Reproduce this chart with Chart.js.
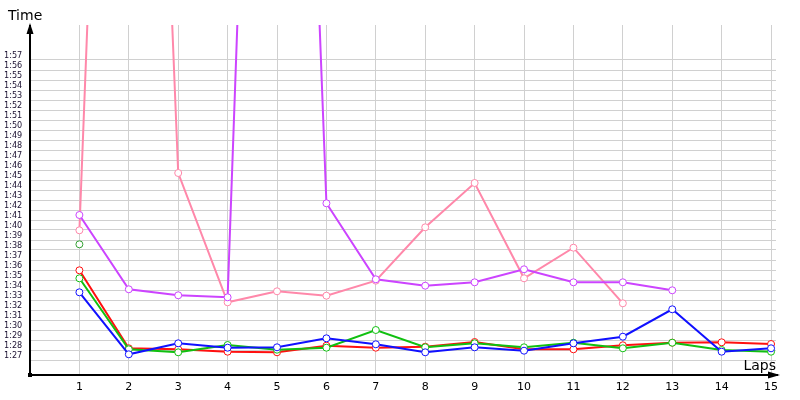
<!DOCTYPE html>
<html>
<head>
<meta charset="utf-8">
<script src="https://cdn.jsdelivr.net/npm/chart.js@4"></script>
<style>
  body { margin: 0; background: #fff; }
  #wrap { width: 800px; height: 400px; }
</style>
</head>
<body>
<div id="wrap"><canvas id="lapChart" width="800" height="400"></canvas></div>
<script>
// lap numbers on the x axis
const laps = [1, 2, 3, 4, 5, 6, 7, 8, 9, 10, 11, 12, 13, 14, 15];

// lap times in seconds, one array per driver
const redTimes = [95.97, 88.17, 88.07, 87.83, 87.77, 88.43, 88.23, 88.33, 88.8, 88.07, 88.07, 88.47, 88.73, 88.77, 88.6];
const greenTimes = [95.17, 88.07, 87.77, 88.5, 88.03, 88.23, 90.0, 88.27, 88.67, 88.27, 88.73, 88.17, 88.73, 88.0, 87.83];
const blueTimes = [93.77, 87.57, 88.67, 88.23, 88.27, 89.17, 88.57, 87.77, 88.27, 87.93, 88.67, 89.33, 92.07, 87.83, 88.17];
const purpleTimes = [101.5, 94.07, 93.47, 93.27, 232, 102.67, 95.07, 94.43, 94.77, 96.07, 94.77, 94.77, 93.97];
const pinkTimes = [99.97, 228, 105.7, 92.77, 93.87, 93.43, 94.93, 100.27, 104.7, 95.17, 98.23, 92.67];
const oneLapTimes = [98.57];

// y axis labels
const timeTicks = ["1:27", "1:28", "1:29", "1:30", "1:31", "1:32", "1:33", "1:34", "1:35", "1:36",
  "1:37", "1:38", "1:39", "1:40", "1:41", "1:42", "1:43", "1:44", "1:45", "1:46", "1:47", "1:48",
  "1:49", "1:50", "1:51", "1:52", "1:53", "1:54", "1:55", "1:56", "1:57"];

function toSeconds(label) {
  const parts = label.split(":");
  return Number(parts[0]) * 60 + Number(parts[1]);
}

function toLabel(sec) {
  const m = Math.floor(sec / 60);
  const s = Math.round(sec - m * 60);
  return m + ":" + (s < 10 ? "0" + s : s);
}

function series(times, color) {
  return {
    data: times.map((t, i) => ({ x: laps[i], y: t })),
    borderColor: color,
    backgroundColor: "#ffffff",
    pointBackgroundColor: "#ffffff",
    pointBorderColor: color,
    pointBorderWidth: 1,
    pointRadius: 3.5,
    borderWidth: 2,
    tension: 0
  };
}

const axisDecor = {
  id: "axisDecor",
  afterDraw(chart) {
    const { ctx, chartArea } = chart;
    const x0 = chartArea.left;
    const y0 = chartArea.bottom;
    ctx.save();
    ctx.fillStyle = "#000";
    ctx.strokeStyle = "#000";
    ctx.lineWidth = 2;
    // axis lines
    ctx.beginPath();
    ctx.moveTo(x0, y0);
    ctx.lineTo(x0, chartArea.top);
    ctx.moveTo(x0, y0);
    ctx.lineTo(778, y0);
    ctx.stroke();
    // arrow heads
    ctx.beginPath();
    ctx.moveTo(x0, 23);
    ctx.lineTo(x0 - 3.5, 34);
    ctx.lineTo(x0 + 3.5, 34);
    ctx.closePath();
    ctx.fill();
    ctx.beginPath();
    ctx.moveTo(780, y0);
    ctx.lineTo(768, y0 - 3.5);
    ctx.lineTo(768, y0 + 3.5);
    ctx.closePath();
    ctx.fill();
    ctx.fillRect(x0 - 2, y0 - 2, 4, 4);
    // axis titles
    ctx.font = "14px 'DejaVu Sans'";
    ctx.textBaseline = "alphabetic";
    ctx.textAlign = "left";
    ctx.fillText("Time", 8, 20);
    ctx.textAlign = "right";
    ctx.fillText("Laps", 776, 370);
    ctx.restore();
  }
};

const ctx = document.getElementById("lapChart").getContext("2d");
const lapChart = new Chart(ctx, {
  type: "line",
  plugins: [axisDecor],
  data: {
    datasets: [
      series(blueTimes, "#1010ff"),
      series(greenTimes, "#10c010"),
      series(redTimes, "#ff1010"),
      series(purpleTimes, "#cc44ff"),
      series(pinkTimes, "#ff88aa"),
      series(oneLapTimes, "#33a033")
    ]
  },
  options: {
    responsive: false,
    animation: false,
    layout: {
      padding: { left: 4, top: 25, right: 24, bottom: 0 }
    },
    plugins: {
      legend: { display: false },
      tooltip: { enabled: false }
    },
    scales: {
      x: {
        type: "linear",
        min: 0,
        max: 15.1,
        afterFit(scale) {
          scale.height = 25;
        },
        afterBuildTicks(scale) {
          scale.ticks = laps.map(l => ({ value: l }));
        },
        grid: {
          color: "#d0d0d0",
          lineWidth: 1,
          drawTicks: false
        },
        border: { display: false },
        ticks: {
          padding: 6,
          color: "#000",
          font: { family: "DejaVu Sans", size: 11 },
          maxRotation: 0,
          autoSkip: false,
          callback: v => String(v)
        }
      },
      y: {
        type: "linear",
        min: 85.5,
        max: 120.5,
        afterFit(scale) {
          scale.width = 26;
        },
        afterBuildTicks(scale) {
          scale.ticks = timeTicks.map(t => ({ value: toSeconds(t) }));
        },
        grid: {
          color: "#d0d0d0",
          lineWidth: 1,
          drawTicks: false
        },
        border: { display: false },
        ticks: {
          crossAlign: "far",
          labelOffset: -4,
          padding: 0,
          color: "#1a1030",
          font: { family: "DejaVu Sans Condensed, DejaVu Sans", size: 9 },
          autoSkip: false,
          callback: v => toLabel(v)
        }
      }
    }
  }
});
</script>
</body>
</html>
